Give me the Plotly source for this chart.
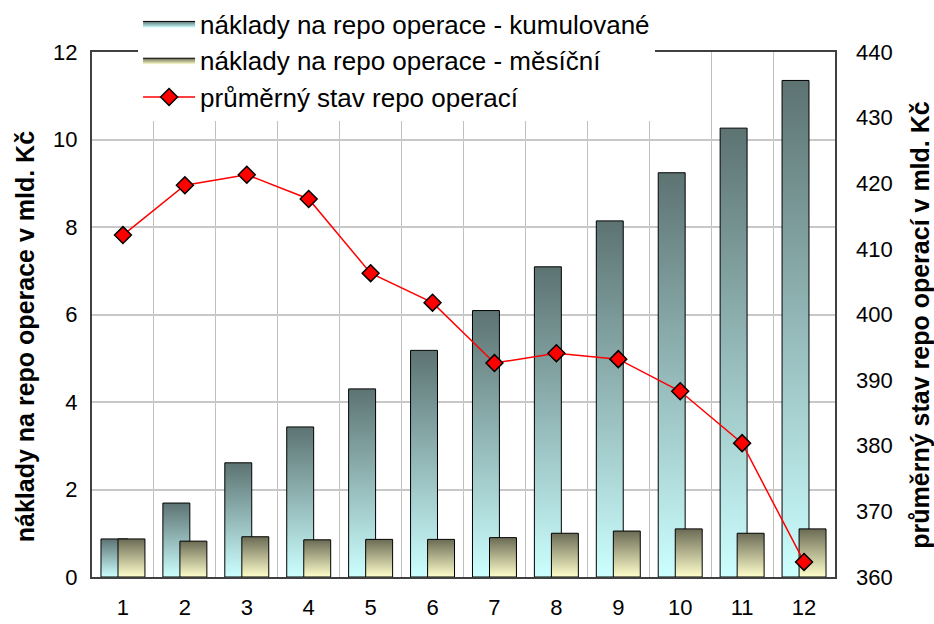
import plotly.graph_objects as go

months = list(range(1, 13))
month_labels = [str(m) for m in months]
cumulative = [0.87, 1.69, 2.61, 3.43, 4.30, 5.18, 6.09, 7.09, 8.14, 9.24, 10.26, 11.35]
monthly = [0.87, 0.82, 0.92, 0.85, 0.86, 0.86, 0.90, 1.00, 1.05, 1.10, 1.00, 1.10]
avg_repo = [412.1, 419.7, 421.3, 417.6, 406.3, 401.8, 392.6, 394.1, 393.2, 388.3, 380.4, 362.3]

name_cum = "náklady na repo operace - kumulované"
name_mon = "náklady na repo operace - měsíční"
name_avg = "průměrný stav repo operací"

FONT = "Arial, Liberation Sans, sans-serif"
BAR_W = 0.435

fig = go.Figure()


def add_bars(values, offset, name, bottom_color, top_color):
    for i, (m, v) in enumerate(zip(months, values)):
        x0 = m + offset
        x1 = x0 + BAR_W
        fig.add_trace(go.Scatter(
            x=[x0, x1, x1, x0, x0],
            y=[0, 0, v, v, 0],
            mode="lines",
            fill="toself",
            fillgradient=dict(type="vertical", start=0, stop=v,
                              colorscale=[[0, bottom_color], [1, top_color]]),
            line=dict(color="#000000", width=1),
            name=name,
            legendgroup=name,
            showlegend=(i == 0),
            hoverinfo="skip",
        ))


add_bars(cumulative, -0.355, name_cum, "#CCFFFF", "#5C7372")
add_bars(monthly, 0.355 - BAR_W, name_mon, "#FFFFCC", "#6B6B55")

fig.add_trace(go.Scatter(
    x=months, y=avg_repo, yaxis="y2",
    mode="lines+markers",
    name=name_avg,
    legendgroup=name_avg,
    line=dict(color="#FF0000", width=1.5),
    marker=dict(symbol="diamond", size=13, color="#FF0000",
                line=dict(color="#000000", width=1.5)),
))

fig.update_layout(
    width=934, height=624,
    margin=dict(l=92, r=99, t=52, b=47, autoexpand=False),
    paper_bgcolor="white", plot_bgcolor="white",
    font=dict(family=FONT, size=22, color="#000000"),
    showlegend=True,
    legend=dict(
        x=0.062, y=1.099, xanchor="left", yanchor="top",
        bgcolor="white", borderwidth=0,
        font=dict(family=FONT, size=26),
        traceorder="grouped", tracegroupgap=0,
        itemwidth=52,
    ),
    xaxis=dict(
        range=[0.5, 12.5], tickmode="array", tickvals=months, ticktext=month_labels,
        showgrid=False, zeroline=False,
        showline=True, linecolor="#404040", linewidth=2, mirror=True,
        ticks="", ticklabelstandoff=10,
        minor=dict(tickmode="array", tickvals=[m + 0.5 for m in months[:-1]],
                   showgrid=True, gridcolor="#C0C0C0", gridwidth=1, ticks=""),
        tickfont=dict(size=22),
    ),
    yaxis=dict(
        range=[0, 12], dtick=2, tick0=0,
        showgrid=True, gridcolor="#C8C8C8", gridwidth=1.5, zeroline=False,
        showline=True, linecolor="#404040", linewidth=2, mirror=True,
        ticks="", ticklabelstandoff=8,
        tickfont=dict(size=22),
    ),
    yaxis2=dict(
        range=[360, 440], dtick=10, tick0=360,
        overlaying="y", side="right", anchor="x",
        showgrid=False, zeroline=False, showline=False,
        ticks="", ticklabelstandoff=20,
        tickfont=dict(size=22),
    ),
    annotations=[
        dict(text="náklady na repo operace v mld. Kč", textangle=-90,
             xref="paper", yref="paper", x=-0.090, y=0.457,
             xanchor="center", yanchor="middle", showarrow=False,
             font=dict(family=FONT, size=25, color="#000000", weight="bold")),
        dict(text="průměrný stav repo operací v mld. Kč", textangle=-90,
             xref="paper", yref="paper", x=1.114, y=0.48,
             xanchor="center", yanchor="middle", showarrow=False,
             font=dict(family=FONT, size=25, color="#000000", weight="bold")),
    ],
)

fig.write_html("out.html", config={"displayModeBar": False},
               post_script="document.body.style.margin='0';")
